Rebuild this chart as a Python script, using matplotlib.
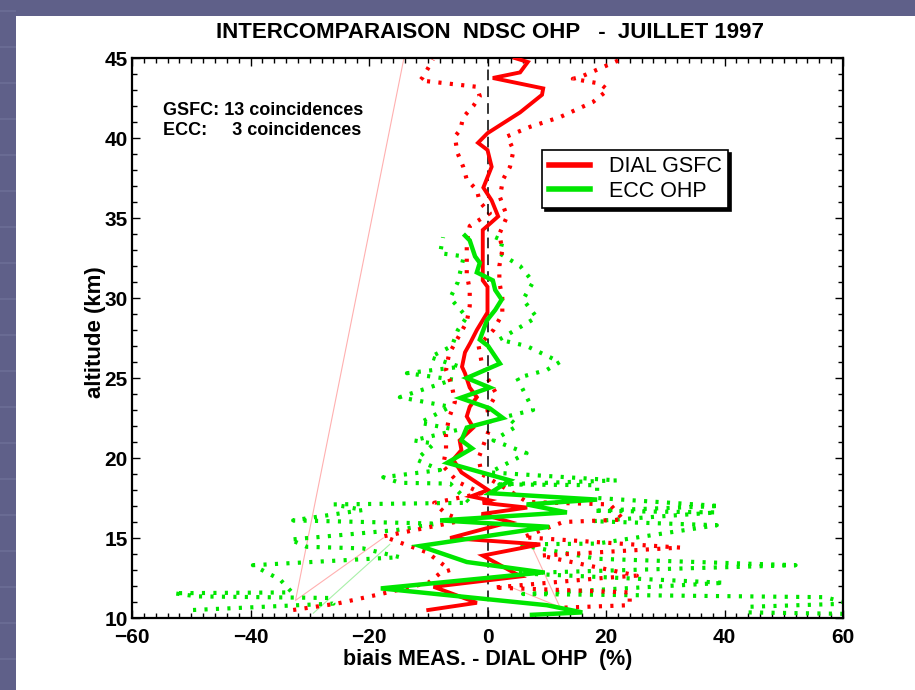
import matplotlib
matplotlib.use("Agg")
import matplotlib.pyplot as plt
from matplotlib.patches import Rectangle
from matplotlib.ticker import MultipleLocator
from matplotlib.lines import Line2D

plt.rcParams['font.family'] = ['Liberation Sans', 'DejaVu Sans']

# ---- mean bias profiles (altitude km, bias %) ----
gsfc_alt = [10.5, 10.95, 11.95, 12.6, 13.9, 14.6, 15.0, 16.0, 16.5, 16.9, 17.2, 17.35,
            17.6, 18.0, 19.1, 19.9, 20.5, 21.1, 21.9, 22.6, 23.2, 23.8, 24.4, 25.3,
            25.7, 26.6, 27.2, 28.0, 29.1, 30.7, 31.1, 32.8, 34.25, 35.1, 36.1, 36.9,
            38.2, 39.25, 39.7, 40.3, 41.6, 42.7, 43.1, 43.75, 44.1, 44.75, 45.0]
gsfc_bias = [-10.0, -1.8, -9.1, 5.6, -0.8, 8.9, -6.3, 3.8, -1.0, 6.7, -0.8, 0.4,
             -2.8, 0.1, -4.4, -5.8, -4.4, -4.7, -2.4, -3.5, -3.0, -1.8, -3.0, -3.8,
             -4.3, -3.8, -2.9, -1.8, 0.0, 0.0, -0.8, -0.8, -0.8, 1.8, 0.7, -0.7,
             0.7, 0.0, -1.6, 0.0, 5.5, 9.2, 9.4, 0.9, 5.5, 6.8, 4.6]

ecc_alt = [10.2, 10.35, 10.8, 11.85, 12.85, 13.5, 14.5, 15.7, 16.1, 16.6, 17.1, 17.4,
           17.8, 18.6, 19.7, 20.6, 21.1, 21.9, 22.5, 23.1, 23.75, 24.4, 25.0, 25.9,
           27.0, 27.4, 28.6, 29.25, 29.9, 30.5, 31.1, 31.6, 32.2, 32.6, 33.6, 33.9]
ecc_bias = [7.5, 16.0, 10.0, -18.0, 9.4, -3.5, -11.4, 10.4, -8.0, 13.4, 6.6, 18.5,
            0.4, 3.8, -6.8, -2.6, -4.4, -3.5, 2.6, 0.4, -4.6, 0.4, -3.5, 2.1,
            0.1, -1.3, -0.1, 1.3, 2.4, 1.3, 0.9, -1.8, -1.3, -2.1, -3.0, -3.8]

# ---- mean -/+ standard deviation envelopes ----
gsfc_lo_alt = [10.5, 10.9, 11.5, 12.2, 12.8, 13.0, 14.1, 15.1, 16.1, 16.5, 17.2, 17.8,
               18.5, 19.5, 20.5, 21.5, 22.5, 23.5, 24.5, 25.5, 26.5, 27.5, 28.5, 29.5,
               30.5, 31.5, 32.5, 33.5, 34.5, 35.3, 36.0, 36.75, 37.4, 38.2, 39.1, 40.1,
               40.5, 41.3, 42.0, 42.6, 43.2, 43.6, 43.8, 44.9]
gsfc_lo = [-32.8, -25.4, -18.0, -10.0, -8.0, -6.3, -10.2, -17.6, -4.1, -7.0, -9.0, -1.0,
           -5.0, -7.5, -7.0, -7.0, -6.5, -5.5, -6.0, -7.0, -6.5, -5.0, -3.5, -3.0,
           -3.0, -3.5, -3.5, -3.5, -3.0, 0.4, -1.3, -1.8, -3.5, -4.1, -5.1, -5.5,
           -4.6, -4.1, -2.4, -1.3, -1.8, -11.4, -10.9, -9.2]

gsfc_hi_alt = [10.65, 10.8, 11.6, 11.9, 12.5, 12.65, 13.9, 14.4, 15.05, 16.0, 16.15, 17.1,
               17.25, 18.0, 19.0, 20.0, 21.0, 22.0, 23.0, 24.0, 25.0, 26.0, 27.0, 28.0,
               29.0, 30.0, 31.0, 32.0, 33.0, 34.0, 35.1, 36.3, 37.4, 38.2, 39.25, 40.1,
               40.7, 41.3, 42.25, 43.0, 43.4, 43.7, 43.8, 44.9]
gsfc_hi = [13.0, 24.0, 24.0, 1.0, 19.5, 25.2, 9.0, 32.5, 6.0, 12.8, 22.9, 20.7,
           6.7, 3.5, -1.0, -1.5, -0.5, 0.5, 0.0, 1.5, 0.0, -1.0, -1.5, 1.0,
           2.5, 2.5, 2.0, 2.0, 2.5, 2.0, 3.3, 2.1, 2.6, 3.8, 4.4, 3.3,
           7.2, 12.2, 17.8, 20.3, 19.0, 14.4, 15.6, 22.4]

ecc_lo_alt = [10.5, 10.9, 11.25, 11.35, 11.55, 11.6, 12.4, 13.3, 13.8, 14.35, 14.45, 14.9,
              15.5, 15.9, 16.1, 16.75, 17.1, 17.2, 18.4, 18.45, 18.8, 19.25, 19.9, 20.9,
              21.1, 21.75, 22.2, 23.2, 23.8, 24.9, 25.3, 25.7, 26.3, 27.0, 28.0, 28.8,
              30.0, 31.0, 32.6, 32.8, 33.8]
ecc_lo = [-49.7, -26.0, -26.6, -49.0, -53.0, -33.0, -35.0, -39.6, -14.8, -21.0, -30.5, -33.3,
          -15.3, -8.5, -32.8, -21.0, -26.0, -3.0, -6.3, -14.8, -17.6, -8.0, -12.0, -9.0,
          -12.5, -5.1, -11.4, -6.3, -14.8, -5.8, -13.6, -4.6, -9.7, -6.0, -5.0, -3.5,
          -6.3, -5.0, -4.0, -8.0, -7.5]

ecc_hi_alt = [10.25, 10.35, 10.7, 10.9, 11.3, 11.5, 12.2, 12.8, 13.3, 13.7, 14.6, 14.65,
              15.8, 16.05, 16.6, 16.7, 17.0, 17.5, 18.3, 18.35, 18.6, 19.1, 20.3, 21.1,
              22.0, 22.6, 23.0, 25.0, 25.5, 26.0, 27.0, 27.4, 28.8, 29.9, 31.0, 32.0,
              32.8, 33.6, 34.0]
ecc_hi = [62.0, 44.0, 44.0, 61.0, 57.0, 6.0, 40.0, 5.0, 52.0, 18.5, 5.0, 18.5,
          38.7, 17.8, 38.7, 17.8, 39.2, 18.5, 18.5, 2.0, 21.9, 0.4, 6.6, 1.0,
          5.0, 3.3, 7.7, 5.0, 10.0, 12.2, 6.6, 2.0, 8.3, 6.0, 7.7, 5.5,
          2.0, 2.6, 0.0]

# ---- thin connecting segments left by the plotting of missing levels ----
link_red_x = [-14.1, -32.4, -17.6]
link_red_y = [45.0, 11.1, 15.0]
link_red2_x = [7.2, 12.2]
link_red2_y = [14.7, 10.7]
link_red3_x = [3.8, 12.8]
link_red3_y = [11.95, 10.6]
link_green_x = [-29.4, -16.5]
link_green_y = [10.3, 14.6]

title = "INTERCOMPARAISON  NDSC OHP   -  JUILLET 1997"
xlabel = "biais MEAS. - DIAL OHP  (%)"
ylabel = "altitude (km)"
series_names = ["DIAL GSFC", "ECC OHP"]
notes = ["GSFC: 13 coincidences", "ECC:     3 coincidences"]

RED = '#ff0000'
GREEN = '#00e600'
W, H = 915, 690

fig = plt.figure(figsize=(W / 100, H / 100), dpi=100)
fig.patch.set_facecolor('#5f6089')

# slide panel and the faint banding of its margin
for yy in range(10, H, 36):
    fig.patches.append(Rectangle((0, 1 - (yy + 2) / H), 16 / W, 2 / H,
                                 transform=fig.transFigure, facecolor='#696b93',
                                 edgecolor='none', zorder=-20))
fig.patches.append(Rectangle((16 / W, 0), 1 - 16 / W, 1 - 16 / H, transform=fig.transFigure,
                             facecolor='white', edgecolor='none', zorder=-10))

ax = fig.add_axes([132 / W, 1 - 618 / H, 711 / W, 560 / H])
ax.set_facecolor('white')
ax.set_xlim(-60, 60)
ax.set_ylim(10, 45)

dot = dict(lw=3.0, dashes=(0.75, 2.0), solid_capstyle='butt', dash_capstyle='butt')

ax.plot(link_red_x, link_red_y, color='#ffb0b0', lw=0.8, zorder=1)
ax.plot(link_red2_x, link_red2_y, color='#ffb0b0', lw=0.8, zorder=1)
ax.plot(link_red3_x, link_red3_y, color='#ffb0b0', lw=0.8, zorder=1)
ax.plot(link_green_x, link_green_y, color='#a8f0a8', lw=0.8, zorder=1)

ax.plot(ecc_lo, ecc_lo_alt, color=GREEN, zorder=2, **dot)
ax.plot(ecc_hi, ecc_hi_alt, color=GREEN, zorder=2, **dot)
ax.plot(gsfc_lo, gsfc_lo_alt, color=RED, zorder=2, **dot)
ax.plot(gsfc_hi, gsfc_hi_alt, color=RED, zorder=2, **dot)

ax.axvline(0, color='black', lw=1.1, dashes=(7, 4), zorder=3)

ax.plot(gsfc_bias, gsfc_alt, color=RED, lw=2.8, zorder=4, solid_joinstyle='miter')
ax.plot(ecc_bias, ecc_alt, color=GREEN, lw=3.2, zorder=5, solid_joinstyle='miter')

# axes frame and ticks
for sp in ax.spines.values():
    sp.set_linewidth(1.6)
ax.xaxis.set_major_locator(MultipleLocator(20))
ax.xaxis.set_minor_locator(MultipleLocator(2))
ax.yaxis.set_major_locator(MultipleLocator(5))
ax.yaxis.set_minor_locator(MultipleLocator(1))
ax.tick_params(which='both', direction='in', top=True, right=True, width=1.0)
ax.tick_params(which='major', length=6)
ax.tick_params(which='minor', length=3.6)
ax.tick_params(axis='x', which='major', pad=7)
ax.tick_params(axis='y', which='major', pad=3)
for lab in ax.get_xticklabels() + ax.get_yticklabels():
    lab.set_fontsize(15)
    lab.set_fontweight('bold')

fig.text(490 / W, 1 - 33 / H, title, ha='center', va='center', fontsize=16, fontweight='bold')
fig.text(488 / W, 1 - 660 / H, xlabel, ha='center', va='center', fontsize=15.5, fontweight='bold')
fig.text(95 / W, 1 - 332 / H, ylabel, ha='center', va='center', rotation=90,
         fontsize=16, fontweight='bold')

ax.text(0.0436, 0.907, notes[0], transform=ax.transAxes, ha='left', va='center',
        fontsize=13, fontweight='bold')
ax.text(0.0436, 0.870, notes[1], transform=ax.transAxes, ha='left', va='center',
        fontsize=13, fontweight='bold')

handles = [Line2D([], [], color=RED, lw=4), Line2D([], [], color=GREEN, lw=4)]
leg = ax.legend(handles, series_names, loc='upper left', bbox_to_anchor=(0.577, 0.836),
                frameon=True, fancybox=False, shadow={'color': 'black', 'alpha': 1},
                prop={'size': 15.5}, handlelength=1.9, handletextpad=0.9,
                borderpad=0.3, labelspacing=0.15, borderaxespad=0)
leg.get_frame().set_edgecolor('black')
leg.get_frame().set_linewidth(1.2)
leg.set_zorder(10)

fig.savefig('out.png', dpi=100, facecolor=fig.get_facecolor())
